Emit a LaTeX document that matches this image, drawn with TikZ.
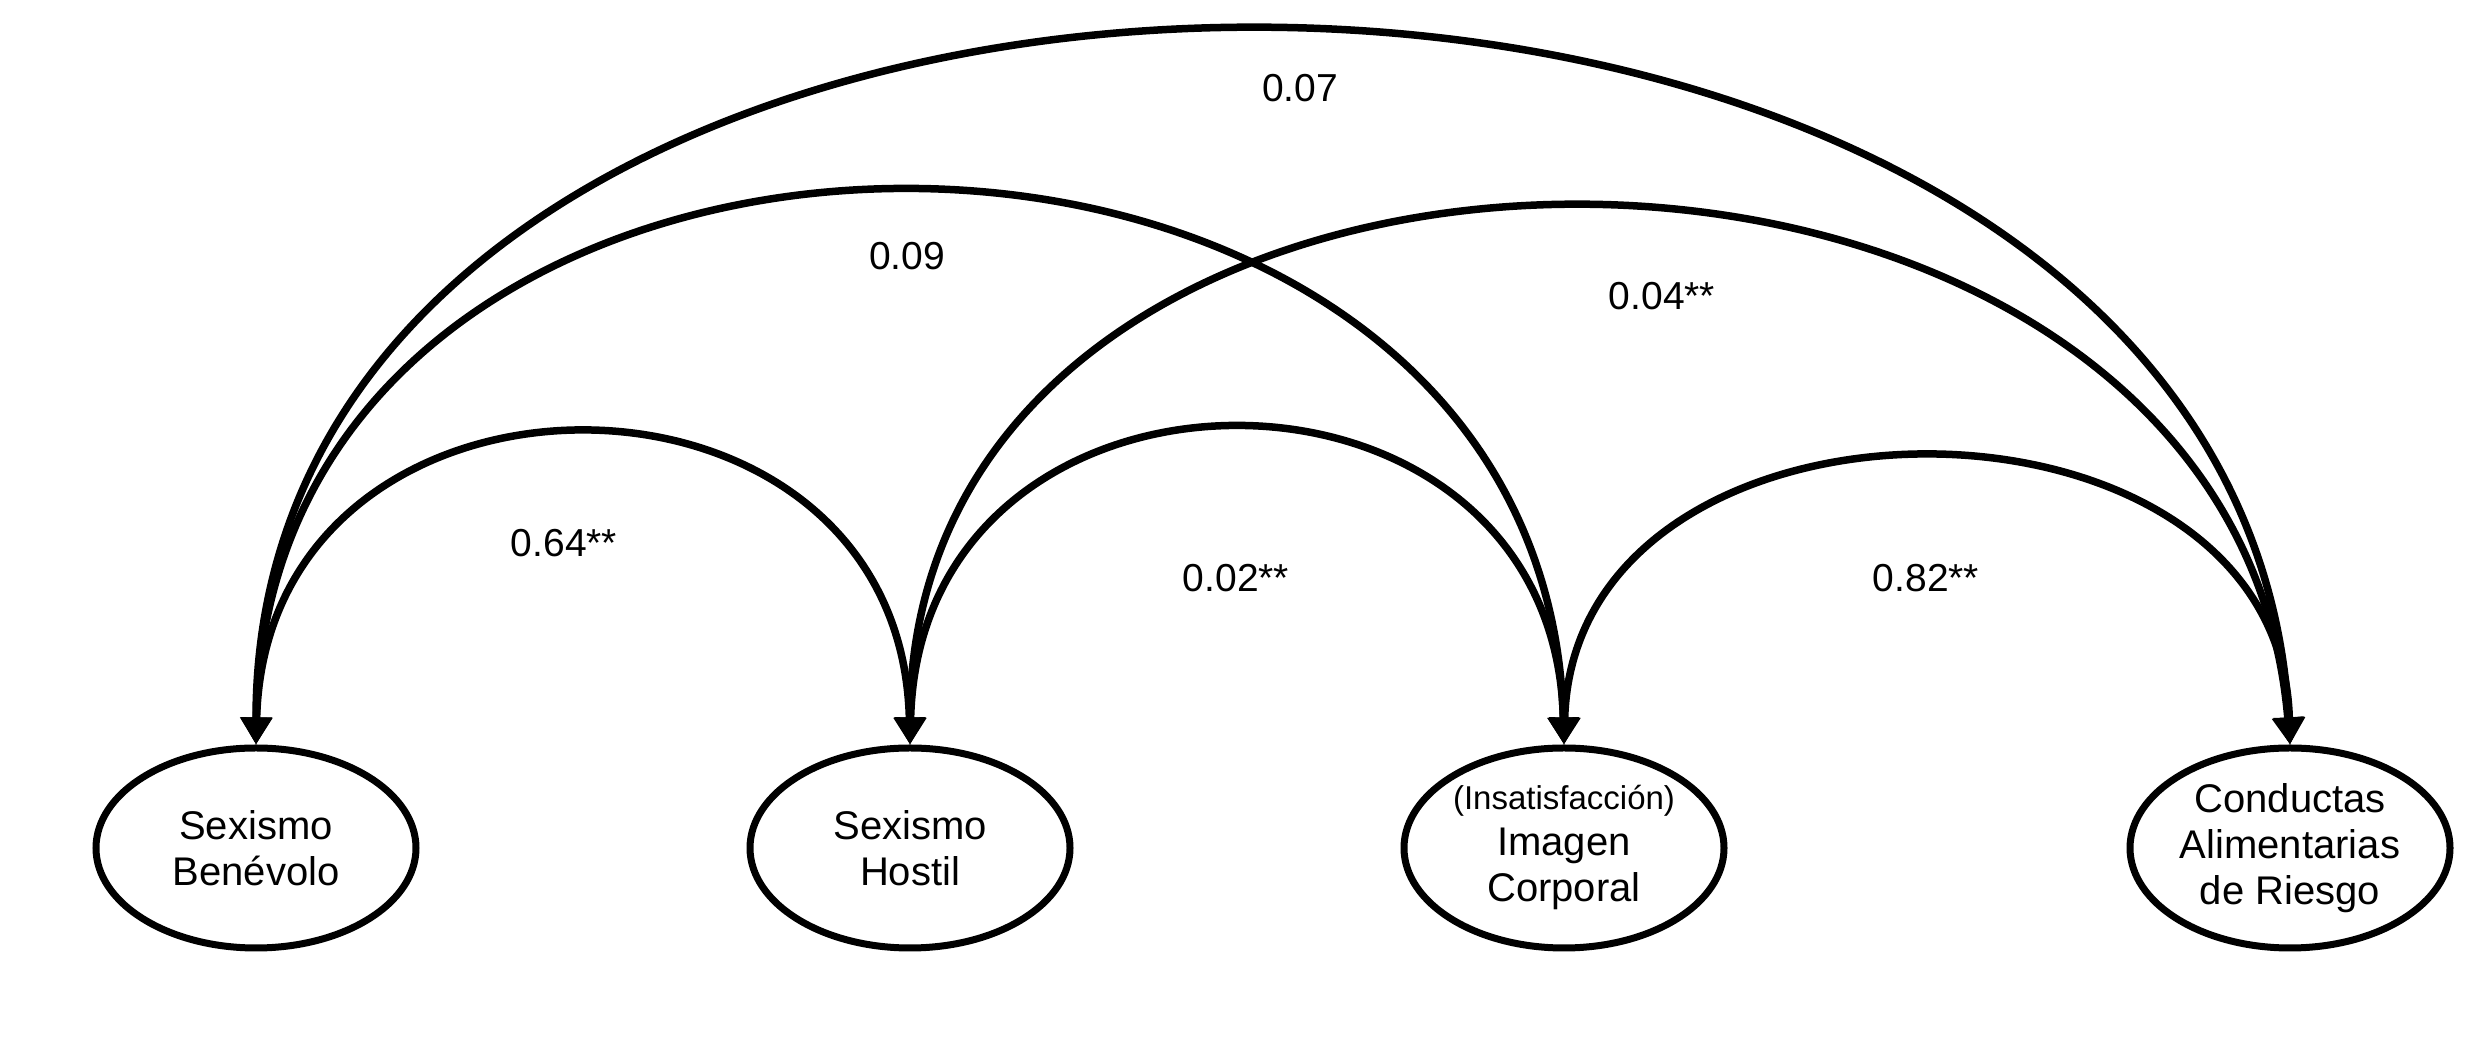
\documentclass[tikz,border=0pt]{standalone}
\usepackage{fontspec}
\setmainfont{Liberation Sans}
\usetikzlibrary{arrows.meta,shapes.geometric}
\begin{document}
\begin{tikzpicture}[x=1pt,y=1pt,
  var/.style={ellipse,draw,line width=7pt,minimum width=320pt,minimum height=200pt,inner sep=0pt,align=center,font=\fontsize{40}{46}\selectfont},
  corr/.style={line width=7.5pt,{Triangle[length=27pt,width=30pt]}-{Triangle[length=27pt,width=30pt]}},
  lab/.style={font=\fontsize{39}{42}\selectfont,inner sep=0pt}]
\useasboundingbox (0,0) rectangle (2492,1048);
\node[var] (b) at (256,200) {Sexismo\\Benévolo};
\node[var] (h) at (910,200) {Sexismo\\Hostil};
\node[var] (i) at (1564,200) {{\fontsize{33}{46}\selectfont(Insatisfacción)}\\Imagen\\Corporal};
\node[var] (c) at (2290,200) {Conductas\\Alimentarias\\de Riesgo};
\draw[corr] (b.north) .. controls +(10,411) and +(-10,411) .. (h.north);
\draw[corr] (h.north) .. controls +(10,417) and +(-10,417) .. (i.north);
\draw[corr] (i.north) .. controls +(10,379) and +(-10,379) .. (c.north);
\draw[corr] (b.north) .. controls +(10,733) and +(-20,733) .. (i.north);
\draw[corr] (h.north) .. controls +(0,712) and +(-60,712) .. (c.north);
\draw[corr] (b.north) .. controls +(0,948) and +(-50,948) .. (c.north);
\node[lab] (l1) at (1300,960) {0.07};
\node[lab] (l2) at (907,792) {0.09};
\node[lab] (l3) at (1662,752) {0.04**};
\node[lab] (l4) at (564,505) {0.64**};
\node[lab] (l5) at (1236,470) {0.02**};
\node[lab] (l6) at (1926,470) {0.82**};
\end{tikzpicture}
\end{document}
